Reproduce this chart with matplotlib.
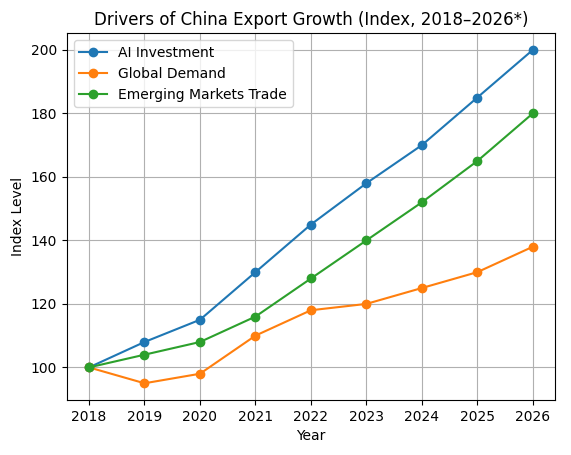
import matplotlib
matplotlib.use("Agg")
import matplotlib.pyplot as plt

years = [2018, 2019, 2020, 2021, 2022, 2023, 2024, 2025, 2026]
ai_investment = [100, 108, 115, 130, 145, 158, 170, 185, 200]
global_demand = [100, 95, 98, 110, 118, 120, 125, 130, 138]
emerging_trade = [100, 104, 108, 116, 128, 140, 152, 165, 180]

fig, ax = plt.subplots(figsize=(5.71, 4.55), dpi=100)
fig.subplots_adjust(left=0.117, right=0.972, top=0.927, bottom=0.121)

ax.plot(years, ai_investment, marker="o", label="AI Investment")
ax.plot(years, global_demand, marker="o", label="Global Demand")
ax.plot(years, emerging_trade, marker="o", label="Emerging Markets Trade")

ax.set_title("Drivers of China Export Growth (Index, 2018\u20132026*)")
ax.set_xlabel("Year")
ax.set_ylabel("Index Level")
ax.set_xticks(years)
ax.grid(True)
ax.legend(loc="upper left")

fig.savefig("out.png", dpi=100)
